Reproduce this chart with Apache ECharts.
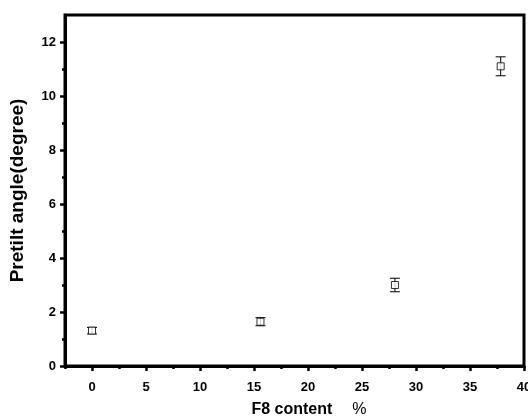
<!DOCTYPE html>
<html>
<head>
<meta charset="utf-8">
<script src="https://cdn.jsdelivr.net/npm/echarts@6/dist/echarts.min.js"></script>
<style>
html,body{margin:0;padding:0;background:#fff;}
#c{width:528px;height:419px;}
</style>
</head>
<body>
<div id="c"></div>
<script>
// Data
var f8Content = [0, 15.6, 28.05, 37.84];
var pretiltAngle = [1.31, 1.64, 3.0, 11.1];
var errorBar = [0.12, 0.15, 0.25, 0.35];
var xMajorTicks = [0, 5, 10, 15, 20, 25, 30, 35, 40];
var xMinorTicks = [-2.5, 2.5, 7.5, 12.5, 17.5, 22.5, 27.5, 32.5, 37.5];
var yMajorTicks = [0, 2, 4, 6, 8, 10, 12];
var yMinorTicks = [1, 3, 5, 7, 9, 11];

var FONT = '"Liberation Sans", Arial, sans-serif';
var chart = echarts.init(document.getElementById('c'));

var points = f8Content.map(function (x, i) { return [x, pretiltAngle[i]]; });
var errData = f8Content.map(function (x, i) {
  return [x, pretiltAngle[i] - errorBar[i], pretiltAngle[i] + errorBar[i]];
});

var xBase = {
  type: 'value', min: -2.5, max: 40, position: 'bottom',
  splitLine: {show: false}
};
var yBase = {
  type: 'value', min: 0, max: 13, position: 'left',
  splitLine: {show: false}
};

chart.setOption({
  animation: false,
  backgroundColor: '#fff',
  grid: {left: 65, right: 4, top: 15, bottom: 53, show: true,
         outerBoundsMode: 'none', containLabel: false,
         borderColor: '#000', borderWidth: 3, backgroundColor: 'transparent'},
  xAxis: [
    Object.assign({}, xBase, {
      name: '{b|F8 content}      {n|%}',
      nameLocation: 'middle', nameGap: 36,
      nameTextStyle: {
        padding: [0, 0, 0, 29],
        rich: {
          b: {fontFamily: FONT, fontWeight: 'bold', fontSize: 16, color: '#000'},
          n: {fontFamily: FONT, fontWeight: 'normal', fontSize: 16, color: '#000'}
        }
      },
      axisLine: {show: true, onZero: false, lineStyle: {color: '#000', width: 3}},
      axisTick: {show: true, inside: false, length: 5, customValues: xMajorTicks,
                 lineStyle: {color: '#000', width: 2.5}},
      axisLabel: {show: true, customValues: xMajorTicks, margin: 15,
                  fontFamily: FONT, fontWeight: 'bold', fontSize: 13, color: '#000'}
    }),
    Object.assign({}, xBase, {
      axisLine: {show: false, onZero: false},
      axisTick: {show: true, inside: false, length: 3, customValues: xMinorTicks,
                 lineStyle: {color: '#000', width: 2.5}},
      axisLabel: {show: false}
    })
  ],
  yAxis: [
    Object.assign({}, yBase, {
      name: 'Pretilt angle(degree)',
      nameLocation: 'middle', nameGap: 38, nameRotate: 90,
      nameTextStyle: {fontFamily: FONT, fontWeight: 'bold', fontSize: 19, color: '#000'},
      axisLine: {show: true, onZero: false, lineStyle: {color: '#000', width: 3}},
      axisTick: {show: true, inside: false, length: 5, customValues: yMajorTicks,
                 lineStyle: {color: '#000', width: 2.5}},
      axisLabel: {show: true, customValues: yMajorTicks, margin: 9,
                  fontFamily: FONT, fontWeight: 'bold', fontSize: 13, color: '#000'}
    }),
    Object.assign({}, yBase, {
      axisLine: {show: false, onZero: false},
      axisTick: {show: true, inside: false, length: 3, customValues: yMinorTicks,
                 lineStyle: {color: '#000', width: 2.5}},
      axisLabel: {show: false}
    })
  ],
  series: [
    {
      type: 'custom',
      xAxisIndex: 0, yAxisIndex: 0,
      data: errData,
      z: 2,
      renderItem: function (params, api) {
        var x = api.value(0);
        var lo = api.coord([x, api.value(1)]);
        var hi = api.coord([x, api.value(2)]);
        var hw = 5;
        var st = {stroke: '#000', lineWidth: 1};
        return {
          type: 'group',
          children: [
            {type: 'line', shape: {x1: lo[0], y1: lo[1], x2: hi[0], y2: hi[1]}, style: st},
            {type: 'line', shape: {x1: lo[0] - hw, y1: lo[1], x2: lo[0] + hw, y2: lo[1]}, style: st},
            {type: 'line', shape: {x1: hi[0] - hw, y1: hi[1], x2: hi[0] + hw, y2: hi[1]}, style: st}
          ]
        };
      }
    },
    {
      type: 'scatter',
      xAxisIndex: 0, yAxisIndex: 0,
      data: points,
      symbol: 'rect',
      symbolSize: [7, 7],
      z: 3,
      itemStyle: {color: '#fff', borderColor: '#000', borderWidth: 1}
    }
  ]
});
</script>
</body>
</html>
